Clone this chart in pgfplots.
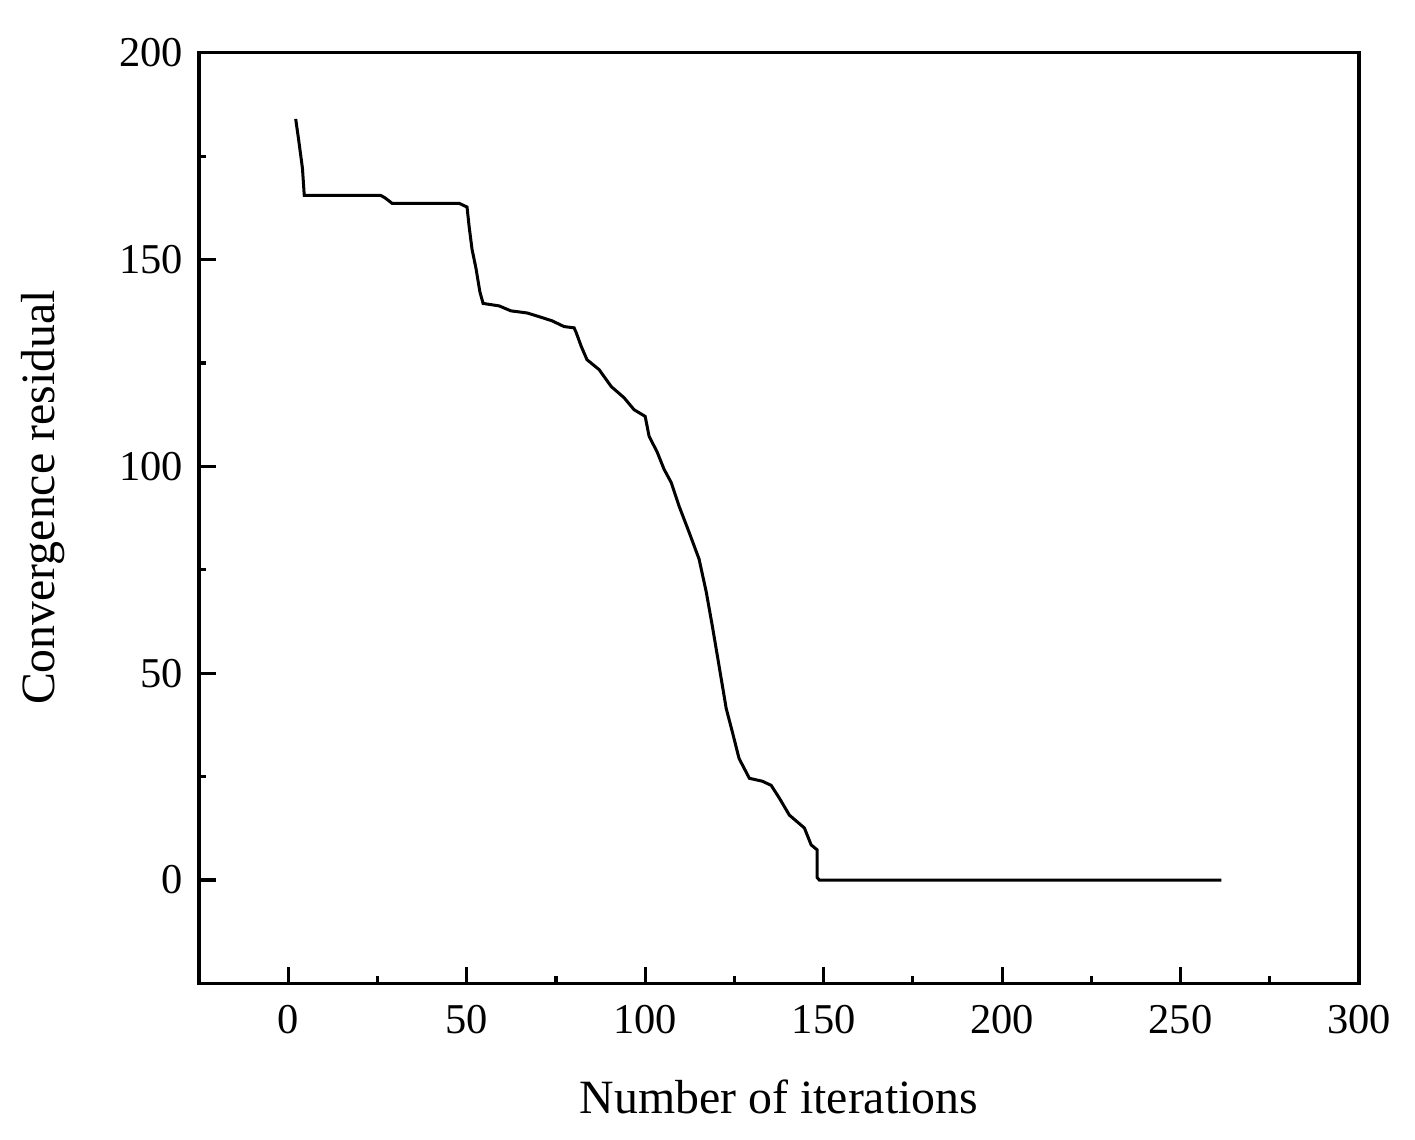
\documentclass[border=0pt]{standalone}
\usepackage{pgfplots}
\pgfplotsset{compat=1.18}
\usepackage{fontspec}
\setmainfont{Liberation Serif}

\begin{document}
\begin{tikzpicture}
\begin{axis}[
  scale only axis,
  width=327.7pt, height=262.9pt,
  xmin=-25, xmax=300, ymin=-25, ymax=200,
  xtick={0,50,...,300}, ytick={0,50,...,200},
  minor x tick num=1, minor y tick num=1,
  tick align=inside, xtick pos=left, ytick pos=left,
  major tick length=4.7pt, minor tick length=2pt,
  axis line style={line width=0.9pt},
  every tick/.append style={black, line width=0.9pt},
  /pgf/number format/assume math mode=true,
  tick label style={font=\fontsize{12}{14}\selectfont},
  xticklabel style={yshift=-2.5pt},
  yticklabel style={xshift=-1pt},
  label style={font=\fontsize{13.5}{16}\selectfont},
  xlabel={Number of iterations},
  ylabel={Convergence residual},
  xlabel style={at={(axis description cs:0.5,-0.122)}, anchor=center},
  ylabel style={at={(axis description cs:-0.134,0.522)}, anchor=center},
]
% convergence curve
\addplot[black, line width=0.85pt] coordinates {
  (2.1,184.0) (3,178.5) (4,172) (4.5,165.5) (25.9,165.5) (27,165)
  (29.1,163.6) (47.9,163.6) (50.1,162.7) (50.7,157.9) (51.5,152.5)
  (52.6,147.9) (53.7,142.2) (54.6,139.4) (59.1,138.8) (62.4,137.6)
  (66.9,137.1) (70.3,136.2) (73.9,135.2) (77.3,133.8) (80.1,133.5)
  (80.7,132.3) (82.1,129.0) (83.7,125.8) (87.1,123.4) (90.5,119.3)
  (94.1,116.6) (96.9,113.7) (100.0,112.1) (101.1,107.3) (103.4,103.4)
  (105.3,99.3) (107.3,96.1) (109.5,90.4) (112.3,84.1) (115.1,77.6)
  (117.1,69.7) (118.8,61.5) (120.7,51.8) (122.7,41.5) (124.4,35.9)
  (126.3,29.4) (129.2,24.6) (132.8,23.9) (135.3,22.9) (137.6,19.8)
  (140.4,15.7) (144.6,12.6) (146.5,8.5) (148.2,7.3) (148.2,0.6)
  (148.8,0) (261.4,0)
};
\end{axis}
\pgfresetboundingbox
\path ([shift={(-56.2pt,-44pt)}]current axis.south west) rectangle ([shift={(15.8pt,14.9pt)}]current axis.north east);
\end{tikzpicture}
\end{document}
